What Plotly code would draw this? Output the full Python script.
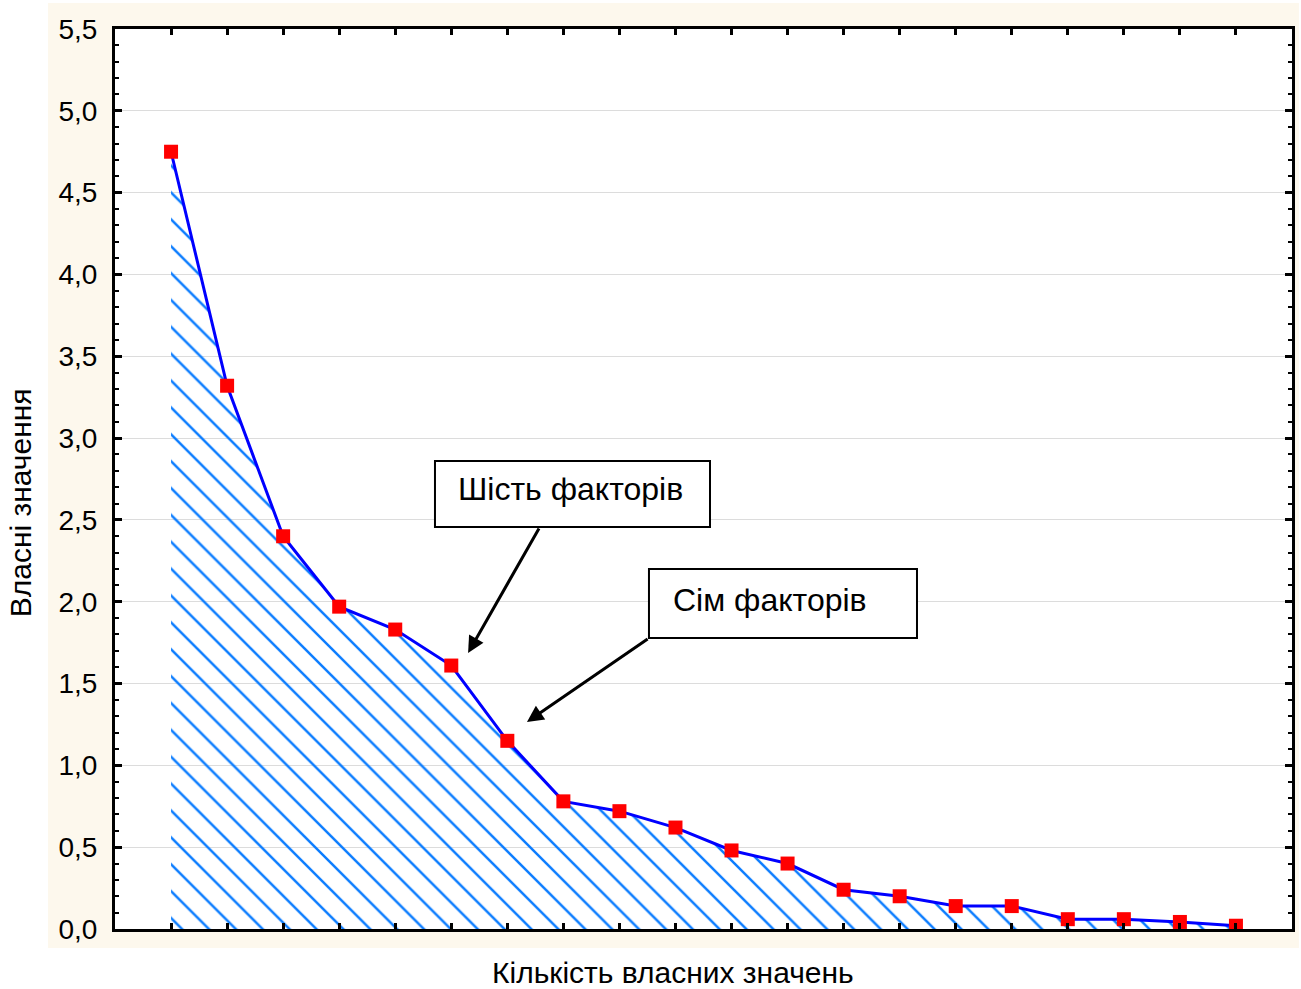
import plotly.graph_objects as go

# ---- data ----
factor_numbers = list(range(1, 21))
eigenvalues = [4.75, 3.32, 2.40, 1.97, 1.83, 1.61, 1.15, 0.78, 0.72, 0.62,
               0.48, 0.40, 0.24, 0.20, 0.14, 0.14, 0.06, 0.06, 0.043, 0.02]
y_ticks = [0, 0.5, 1.0, 1.5, 2.0, 2.5, 3.0, 3.5, 4.0, 4.5, 5.0, 5.5]

x_title = "Кількість власних значень"
y_title = "Власні значення"
label_six = "Шість факторів"
label_seven = "Сім факторів"

FONT = "Liberation Sans, Arial, sans-serif"

fig = go.Figure()
fig.add_trace(go.Scatter(
    x=factor_numbers, y=eigenvalues,
    mode="lines+markers",
    line=dict(color="#0000ff", width=3),
    marker=dict(symbol="square", size=14, color="#ff0000", line=dict(width=0)),
    fill="tozeroy",
    fillcolor="rgba(0,0,0,0)",
    fillpattern=dict(shape="\\", size=19, solidity=0.13, fgopacity=1,
                     fgcolor="#0a7cff", bgcolor="rgba(255,255,255,0)"),
    showlegend=False,
))

fig.update_xaxes(
    range=[0, 21], tickvals=factor_numbers, showticklabels=False,
    ticks="inside", ticklen=6, tickwidth=2.5, tickcolor="black",
    showline=True, linewidth=3, linecolor="black", mirror="ticks",
    showgrid=False, zeroline=False,
)
fig.update_yaxes(
    range=[0, 5.5], tickvals=y_ticks, tickformat=".1f",
    ticks="inside", ticklen=7, tickwidth=2.5, tickcolor="black",
    minor=dict(dtick=0.1, ticks="inside", ticklen=4, tickwidth=2, tickcolor="black", showgrid=False),
    showline=True, linewidth=3, linecolor="black", mirror="ticks",
    showgrid=True, gridcolor="#dcdcdc", gridwidth=1, zeroline=False,
    tickfont=dict(family=FONT, size=28, color="black"),
    ticklabelstandoff=9,
)

shapes = [
    # outer cream panel
    dict(type="rect", xref="paper", yref="paper", x0=-0.0569, x1=1.0059, y0=-0.0211, y1=1.0289,
         fillcolor="#fdf8ed", line=dict(width=0), layer="below"),
    dict(type="rect", xref="paper", yref="paper", x0=0, x1=1, y0=0, y1=1,
         fillcolor="white", line=dict(width=0), layer="below"),
    # label boxes
    dict(type="rect", xref="x", yref="y", x0=5.709, x1=10.616, y0=2.457, y1=2.860,
         fillcolor="white", line=dict(color="black", width=2), layer="above"),
    dict(type="rect", xref="x", yref="y", x0=9.527, x1=14.309, y0=1.778, y1=2.200,
         fillcolor="white", line=dict(color="black", width=2), layer="above"),
]

annotations = [
    # axis titles
    dict(text=x_title, xref="paper", yref="paper", x=0.474, y=-0.028, xanchor="center", yanchor="top",
         showarrow=False, font=dict(family=FONT, size=30, color="black")),
    dict(text=y_title, xref="paper", yref="paper", x=-0.08, y=0.474, xanchor="center", yanchor="middle",
         textangle=-90, showarrow=False, font=dict(family=FONT, size=30, color="black")),
    # box texts
    dict(text=label_six, xref="x", yref="y", x=6.084, y=2.689, xanchor="left", yanchor="middle",
         showarrow=False, font=dict(family=FONT, size=32, color="black")),
    dict(text=label_seven, xref="x", yref="y", x=9.92, y=2.0105, xanchor="left", yanchor="middle",
         showarrow=False, font=dict(family=FONT, size=32, color="black")),
    # arrows
    dict(text="", xref="x", yref="y", x=6.30, y=1.687, axref="x", ayref="y", ax=7.58, ay=2.457,
         showarrow=True, arrowhead=2, arrowsize=1.1, arrowwidth=3, arrowcolor="black"),
    dict(text="", xref="x", yref="y", x=7.35, y=1.265, axref="x", ayref="y", ax=9.53, ay=1.778,
         showarrow=True, arrowhead=2, arrowsize=1.1, arrowwidth=3, arrowcolor="black"),
]

fig.update_layout(
    width=1301, height=989,
    margin=dict(l=115, r=9, t=29, b=60, autoexpand=False),
    paper_bgcolor="white", plot_bgcolor="white",
    separators=", ",
    font=dict(family=FONT, color="black"),
    shapes=shapes, annotations=annotations,
    showlegend=False,
)

fig.write_html("out.html", config={"displayModeBar": False},
               post_script="document.body.style.margin='0';")
